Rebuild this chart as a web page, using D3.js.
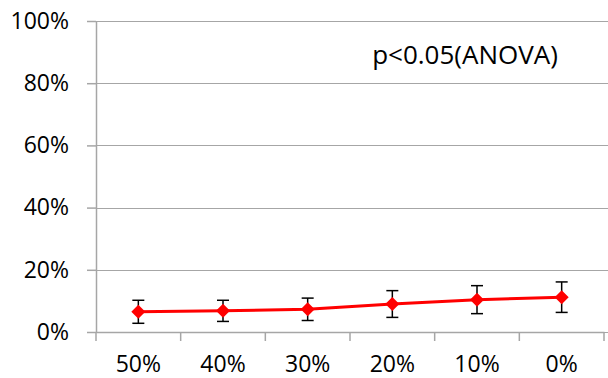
<!DOCTYPE html>
<html>
<head>
<meta charset="utf-8">
<script src="https://cdn.jsdelivr.net/npm/d3@7"></script>
<style>
  body { margin: 0; background: #fff; }
  svg text { font-family: "Open Sans", sans-serif; fill: #000; }
</style>
</head>
<body>
<div id="chart"></div>
<script>
// data
const categories = ["50%", "40%", "30%", "20%", "10%", "0%"];
const means = [0.065, 0.068, 0.073, 0.090, 0.104, 0.112];
const errors = [0.037, 0.034, 0.036, 0.043, 0.045, 0.049];
const yTicks = [0, 0.2, 0.4, 0.6, 0.8, 1.0];
const note = "p<0.05(ANOVA)";

const width = 608, height = 378;
const margin = {top: 21, right: 4, bottom: 46, left: 96};
const innerW = width - margin.left - margin.right;
const innerH = height - margin.top - margin.bottom;

const svg = d3.select("#chart").append("svg")
    .attr("width", width)
    .attr("height", height);

const g = svg.append("g")
    .attr("transform", `translate(${margin.left},${margin.top})`);

const x = d3.scaleBand()
    .domain(categories)
    .range([0, innerW]);

const y = d3.scaleLinear()
    .domain([0, 1])
    .range([innerH, 0]);

// gridlines
g.selectAll(".grid")
    .data(yTicks)
    .enter().append("line")
    .attr("x1", 0).attr("x2", innerW + margin.right)
    .attr("y1", d => Math.round(y(d)) + 0.5)
    .attr("y2", d => Math.round(y(d)) + 0.5)
    .attr("stroke", "#a6a6a6")
    .attr("stroke-width", 1);

// y axis
const yAxis = g.append("g")
    .call(d3.axisLeft(y).tickValues(yTicks).tickFormat(d3.format(".0%")).tickSize(9).tickSizeOuter(0));
yAxis.select(".domain").attr("stroke", "#a6a6a6").attr("stroke-width", 1.5);
yAxis.selectAll(".tick line").attr("stroke", "#a6a6a6").attr("stroke-width", 1.5);
yAxis.selectAll(".tick text")
    .attr("x", -27)
    .style("font-size", "23px")
    .style("font-family", "'Open Sans', sans-serif")
    .attr("fill", "#000");

// x axis
const xAxis = g.append("g")
    .attr("transform", `translate(0,${innerH})`)
    .call(d3.axisBottom(x).tickSize(0).tickSizeOuter(0));
xAxis.select(".domain").attr("stroke", "#a6a6a6").attr("stroke-width", 1.5);
xAxis.selectAll(".tick text")
    .attr("y", 24)
    .style("font-size", "23px")
    .style("font-family", "'Open Sans', sans-serif")
    .attr("fill", "#000");

// category boundary ticks
const bounds = categories.map(c => x(c)).concat([innerW]);
g.selectAll(".xtick")
    .data(bounds)
    .enter().append("line")
    .attr("x1", d => d).attr("x2", d => d)
    .attr("y1", innerH).attr("y2", innerH + 9)
    .attr("stroke", "#a6a6a6")
    .attr("stroke-width", 1.5);

const cx = d => x(d) + x.bandwidth() / 2;
const pts = categories.map((c, i) => ({c: c, v: means[i], e: errors[i]}));

// error bars
const eb = g.selectAll(".err").data(pts).enter().append("g");
eb.append("line")
    .attr("x1", d => cx(d.c)).attr("x2", d => cx(d.c))
    .attr("y1", d => y(d.v + d.e)).attr("y2", d => y(d.v - d.e))
    .attr("stroke", "#000").attr("stroke-width", 1.5);
eb.selectAll(".cap")
    .data(d => [{c: d.c, v: d.v + d.e}, {c: d.c, v: d.v - d.e}])
    .enter().append("line")
    .attr("x1", d => cx(d.c) - 6).attr("x2", d => cx(d.c) + 6)
    .attr("y1", d => y(d.v)).attr("y2", d => y(d.v))
    .attr("stroke", "#000").attr("stroke-width", 1.5);

// line
g.append("path")
    .datum(pts)
    .attr("fill", "none")
    .attr("stroke", "#ff0000")
    .attr("stroke-width", 3)
    .attr("d", d3.line().x(d => cx(d.c)).y(d => y(d.v)));

// diamond markers
g.selectAll(".mk")
    .data(pts)
    .enter().append("path")
    .attr("transform", d => `translate(${cx(d.c)},${y(d.v)})`)
    .attr("d", "M0,-7L7,0L0,7L-7,0Z")
    .attr("fill", "#ff0000");

// annotation
svg.append("text")
    .attr("x", 465)
    .attr("y", 64)
    .attr("text-anchor", "middle")
    .style("font-size", "26px")
    .text(note);
</script>
</body>
</html>
